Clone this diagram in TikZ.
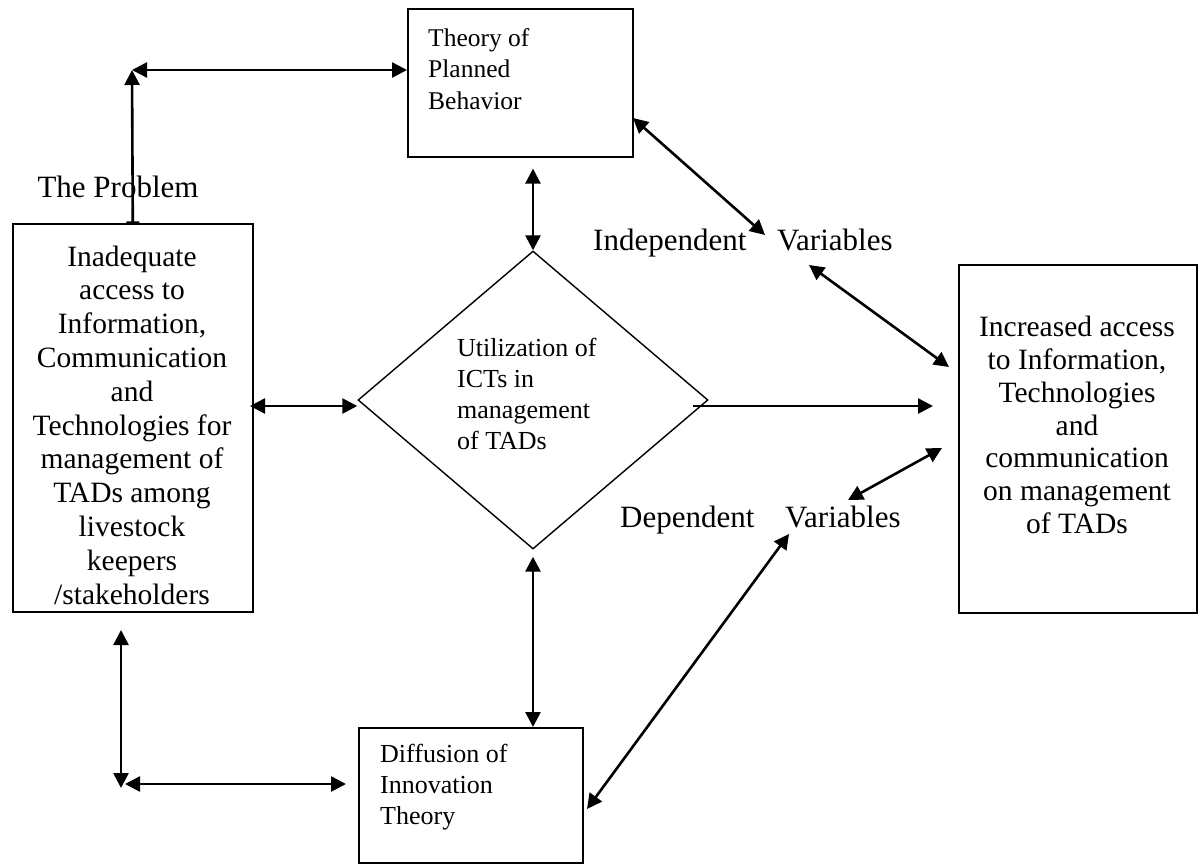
\documentclass[tikz,border=0pt]{standalone}
\usepackage{fontspec}
\setmainfont{Liberation Serif}
\usetikzlibrary{arrows.meta,shapes.geometric}
\begin{document}
\begin{tikzpicture}[x=1pt,y=-1pt,
  box/.style={draw,line width=1.6pt,inner sep=0pt,anchor=north west},
  bigtxt/.style={font=\fontsize{29.5}{33.8}\selectfont,align=center,inner sep=0pt},
  smalltxt/.style={font=\fontsize{25.5}{31.5}\selectfont,align=left,inner sep=0pt,anchor=north west},
  lbl/.style={font=\fontsize{31}{36}\selectfont,inner sep=0pt,anchor=base west},
  dbl/.style={line width=2.6pt,{Triangle[length=15pt,width=15pt]}-{Triangle[length=15pt,width=15pt]}},
  one/.style={line width=2.6pt,-{Triangle[length=15pt,width=15pt]}},
]
\useasboundingbox (0,0) rectangle (1202,865);

% boxes
\node[box,minimum width=225pt,minimum height=148pt] (tpb) at (407,8) {};
\node[smalltxt] (tpbt) at (428,28) {Theory of\\Planned\\Behavior};

\node[box,minimum width=240pt,minimum height=388pt] (prob) at (12,223) {};
\node[bigtxt] (probt) at (132,425) {Inadequate\\access to\\Information,\\Communication\\and\\Technologies for\\management of\\TADs among\\livestock\\keepers\\/stakeholders};

\node[draw,diamond,line width=1.4pt,minimum width=350pt,minimum height=298pt,inner sep=0pt] (util) at (533,400) {};
\node[smalltxt,font=\fontsize{26}{31}\selectfont] (utilt) at (457,338) {Utilization of\\ICTs in\\management\\of TADs};

\node[box,minimum width=238pt,minimum height=348pt] (out) at (958,264) {};
\node[bigtxt,font=\fontsize{29.5}{32.7}\selectfont] (outt) at (1077,425) {Increased access\\to Information,\\Technologies\\and\\communication\\on management\\of TADs};

\node[box,minimum width=224pt,minimum height=135pt] (dit) at (358,727) {};
\node[smalltxt,font=\fontsize{26}{31}\selectfont] (ditt) at (380,744) {Diffusion of\\Innovation\\Theory};

% labels
\node[lbl,anchor=center] (tp) at (118,187) {The Problem};
\node[lbl] (iv1) at (593,250) {Independent};
\node[lbl] (iv2) at (777,250) {Variables};
\node[lbl] (dv1) at (620,527) {Dependent};
\node[lbl] (dv2) at (785,527) {Variables};

% coordinates
\coordinate (corner) at (132,70);
\coordinate (lm) at (250,406);
\coordinate (ro) at (693,406);
\coordinate (d1a) at (633,118);
\coordinate (d1b) at (765,235);
\coordinate (d2a) at (809,265);
\coordinate (d2b) at (949,367);
\coordinate (d3a) at (848,500);
\coordinate (d3b) at (942,448);
\coordinate (d4a) at (789,534);
\coordinate (d4b) at (587,809);
\coordinate (bl1) at (121,630);
\coordinate (bl2) at (121,788);
\coordinate (bl3) at (125,784);
\coordinate (bl4) at (346,784);

% connectors
\draw[line width=2.6pt,{Bar[width=13pt,line width=1.6pt]}-{Triangle[length=15pt,width=15pt]}] (prob.north) -- (corner);
\draw[dbl] (corner) -- (tpb.west |- corner);
\draw[dbl] ([yshift=-11pt]tpb.south -| util.north) -- (util.north);
\draw[dbl] ([yshift=-7pt]util.south) -- (util.south |- dit.north);
\draw[dbl] (lm) -- (util.west |- lm);
\draw[one] (ro) -- ([xshift=-25pt]out.west |- ro);
\draw[dbl] (d1a) -- (d1b);
\draw[dbl] (d2a) -- (d2b);
\draw[dbl] (d3a) -- (d3b);
\draw[dbl] (d4a) -- (d4b);
\draw[dbl] (bl1) -- (bl2);
\draw[dbl] (bl3) -- (bl4);
\end{tikzpicture}
\end{document}
